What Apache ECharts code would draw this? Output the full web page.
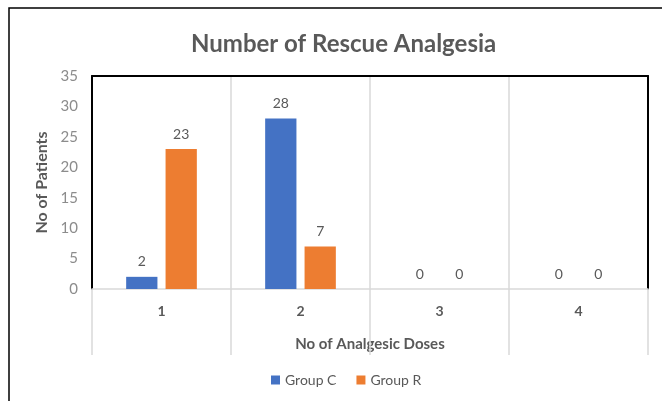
<!DOCTYPE html>
<html>
<head>
<meta charset="utf-8">
<script src="https://cdn.jsdelivr.net/npm/echarts@6/dist/echarts.min.js"></script>
<style>
  html, body { margin: 0; padding: 0; background: #fff; }
  #chart { width: 662px; height: 401px; }
</style>
</head>
<body>
<div id="chart"></div>
<script>
const doses = ["1", "2", "3", "4"];
const groupC = [2, 28, 0, 0];
const groupR = [23, 7, 0, 0];
const yTicks = { min: 0, max: 35, interval: 5 };

const textGray = "#595959";
const lineGray = "#d9d9d9";

const chart = echarts.init(document.getElementById("chart"));

const barLabel = {
  show: true,
  position: "top",
  distance: 8,
  color: textGray,
  fontSize: 14,
  fontFamily: "Lato",
};

chart.setOption({
  animation: false,
  title: {
    text: "Number of Rescue Analgesia",
    left: 186,
    top: 27,
    textStyle: {
      color: textGray,
      fontSize: 24,
      fontWeight: "bold",
      fontFamily: "Lato",
    },
  },
  legend: {
    bottom: 9,
    left: 266,
    itemWidth: 9,
    itemHeight: 9,
    itemGap: 20,
    icon: "rect",
    textStyle: { color: textGray, fontSize: 14, fontFamily: "Lato" },
  },
  grid: { left: 92, right: 14, top: 76, bottom: 112 },
  xAxis: [
    {
      type: "category",
      data: doses,
      name: "No of Analgesic Doses",
      nameLocation: "middle",
      nameGap: 48,
      nameTextStyle: { color: textGray, fontSize: 15, fontWeight: "bold", fontFamily: "Lato" },
      axisLine: { onZero: false, lineStyle: { color: lineGray, width: 1.5 } },
      axisTick: { show: true, length: 66, lineStyle: { color: lineGray, width: 1.5 } },
      axisLabel: { color: textGray, fontSize: 14, fontWeight: "bold", margin: 15, fontFamily: "Lato" },
      splitLine: { show: true, lineStyle: { color: lineGray, width: 1.5 } },
    },
    {
      type: "category",
      data: doses,
      position: "top",
      axisLine: { onZero: false, lineStyle: { color: "#000", width: 2 } },
      axisTick: { show: false },
      axisLabel: { show: false },
    },
  ],
  yAxis: [
    {
      type: "value",
      min: yTicks.min,
      max: yTicks.max,
      interval: yTicks.interval,
      name: "No of Patients",
      nameLocation: "middle",
      nameGap: 40,
      nameTextStyle: { color: textGray, fontSize: 16, fontWeight: "bold", fontFamily: "Lato" },
      axisLine: { show: true, onZero: false, lineStyle: { color: "#000", width: 2 } },
      axisTick: { show: false },
      axisLabel: { color: "#8c8c8c", fontSize: 15, margin: 14, fontFamily: "Lato" },
      splitLine: { show: false },
    },
    {
      type: "value",
      min: yTicks.min,
      max: yTicks.max,
      interval: yTicks.interval,
      position: "right",
      axisLine: { show: true, onZero: false, lineStyle: { color: "#000", width: 2 } },
      axisTick: { show: false },
      axisLabel: { show: false },
      splitLine: { show: false },
    },
  ],
  series: [
    {
      name: "Group C",
      type: "bar",
      data: groupC,
      barWidth: "22.5%",
      barGap: "26%",
      itemStyle: { color: "#4472c4" },
      label: barLabel,
    },
    {
      name: "Group R",
      type: "bar",
      data: groupR,
      barWidth: "22.5%",
      itemStyle: { color: "#ed7d31" },
      label: barLabel,
    },
  ],
  graphic: [
    {
      type: "polyline",
      shape: { points: [[9, 401], [9, 8], [662, 8]] },
      style: { stroke: "#000", lineWidth: 1.5, fill: null },
    },
  ],
});
</script>
</body>
</html>
